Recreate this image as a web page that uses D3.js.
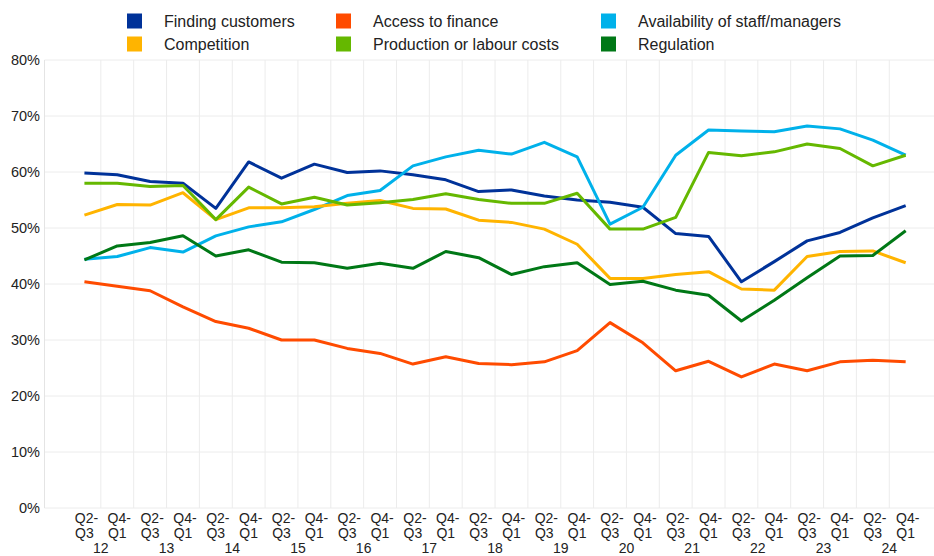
<!DOCTYPE html>
<html><head><meta charset="utf-8">
<script src="https://cdn.jsdelivr.net/npm/d3@7"></script>
<style>body{margin:0;background:#fff;font-family:"Liberation Sans",Arial,sans-serif;}</style>
</head><body><svg id="c" width="934" height="556"></svg>
<script>
const quarters = ["Q2-Q3","Q4-Q1"];
const years = ["12","13","14","15","16","17","18","19","20","21","22","23","24"];
const categories = years.flatMap(y => quarters.map(q => q + " " + y));
const yTicks = [0,10,20,30,40,50,60,70,80];
const seriesNames = ["Finding customers","Access to finance","Availability of staff/managers","Competition","Production or labour costs","Regulation"];
const seriesColors = ["#003299","#FF4B00","#00B1EA","#FFB400","#65B800","#007816"];
const findingCustomers = [59.8,59.5,58.3,58.0,53.5,61.8,58.9,61.4,59.9,60.2,59.5,58.6,56.5,56.8,55.7,55.0,54.6,53.7,49.0,48.5,40.4,44.0,47.7,49.2,51.8,54.0];
const accessToFinance = [40.4,39.6,38.8,35.9,33.3,32.1,30.0,30.0,28.5,27.6,25.7,27.0,25.8,25.6,26.1,28.1,33.1,29.5,24.5,26.2,23.4,25.7,24.5,26.1,26.4,26.1];
const availabilityStaff = [44.4,44.9,46.5,45.7,48.6,50.2,51.1,53.3,55.8,56.7,61.1,62.7,63.9,63.2,65.3,62.7,50.7,53.7,63.0,67.5,67.3,67.2,68.2,67.7,65.7,63.0];
const competition = [52.3,54.2,54.1,56.3,51.5,53.6,53.6,53.8,54.4,54.9,53.5,53.4,51.4,51.0,49.8,47.1,41.0,41.0,41.7,42.2,39.1,38.9,44.9,45.8,45.9,43.8];
const productionCosts = [58.0,58.0,57.4,57.6,51.5,57.3,54.3,55.5,54.1,54.5,55.1,56.1,55.1,54.4,54.4,56.2,49.8,49.8,51.9,63.5,62.9,63.6,65.0,64.2,61.1,63.0];
const regulation = [44.3,46.8,47.4,48.6,45.0,46.1,43.9,43.8,42.8,43.7,42.8,45.8,44.7,41.7,43.1,43.8,39.9,40.5,38.9,38.0,33.4,37.1,41.1,45.0,45.1,49.5];
const seriesValues = [findingCustomers,accessToFinance,availabilityStaff,competition,productionCosts,regulation];

const svg = d3.select("#c");
const pLeft = 44.5, pRight = 934, pTop = 60, pBottom = 508;
const x = d3.scaleBand().domain(categories).range([68, 68 + 32.85*categories.length]).padding(0);
const cx = c => x(c) + x.bandwidth()/2;
const y = d3.scaleLinear().domain([0,80]).range([pBottom, pTop]);

svg.append("g").selectAll("line").data(yTicks).join("line")
  .attr("x1", pLeft).attr("x2", pRight).attr("y1", d=>y(d)).attr("y2", d=>y(d))
  .attr("stroke","#ececec").attr("stroke-width",1);
svg.append("g").selectAll("line").data(categories.slice(1)).join("line")
  .attr("x1", d=>x(d)).attr("x2", d=>x(d)).attr("y1", pTop).attr("y2", pBottom)
  .attr("stroke","#ececec").attr("stroke-width",1);
svg.append("line").attr("x1",pLeft).attr("x2",pLeft).attr("y1",pTop).attr("y2",pBottom).attr("stroke","#e4e4e4");

svg.append("g").selectAll("text").data(yTicks).join("text")
  .attr("x", 40).attr("y", d=>y(d)+4.5).attr("text-anchor","end")
  .attr("font-size",14.5).attr("fill","#222").text(d=>d+"%");

const xl = svg.append("g").attr("font-size",14).attr("fill","#222").attr("text-anchor","middle");
categories.forEach(c => {
  const [q, yr] = c.split(" ");
  const parts = q.split("-");
  xl.append("text").attr("x", cx(c)+2).attr("y", 523).text(parts[0]+"-");
  xl.append("text").attr("x", cx(c)).attr("y", 538).text(parts[1]);
});
years.forEach((yr,i) => {
  const c = categories[i*2+1];
  xl.append("text").attr("x", x(c)).attr("y", 553).text(yr);
});

const line = d3.line().x((d,i)=>cx(categories[i])).y(d=>y(d));
seriesValues.forEach((vals,k) => {
  svg.append("path").datum(vals).attr("d", line).attr("fill","none")
    .attr("stroke", seriesColors[k]).attr("stroke-width",3).attr("stroke-linejoin","round");
});

const legCols = [127, 336, 601];
const legRows = [21, 44];
seriesNames.forEach((n,k) => {
  const col = k % 3, row = Math.floor(k/3);
  const g = svg.append("g");
  g.append("rect").attr("x", legCols[col]).attr("y", legRows[row]-7.5).attr("width",15).attr("height",15).attr("fill",seriesColors[k]);
  g.append("text").attr("x", legCols[col]+37).attr("y", legRows[row]+6).attr("font-size",16).attr("fill","#222").text(n);
});
</script></body></html>
